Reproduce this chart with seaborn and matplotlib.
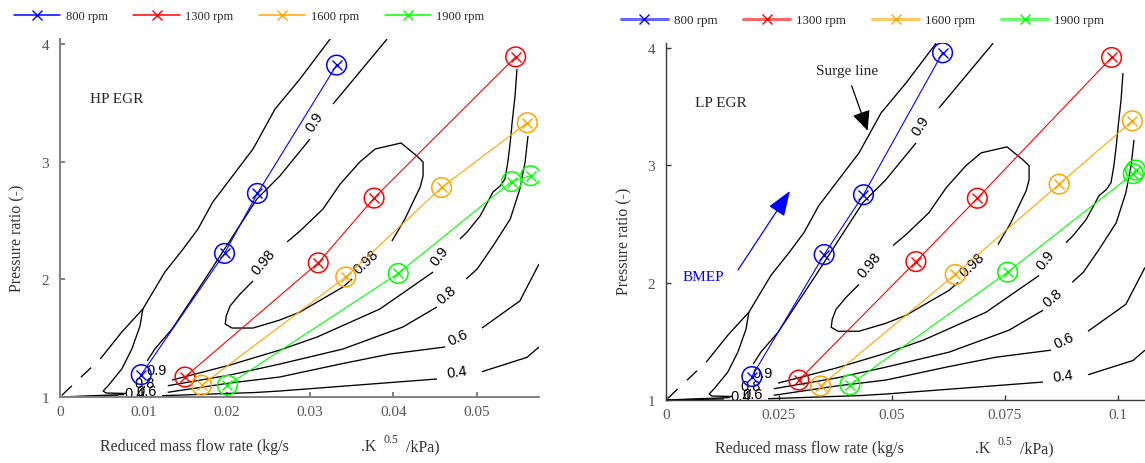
import matplotlib
matplotlib.use("Agg")
import matplotlib.pyplot as plt
from matplotlib.lines import Line2D
from matplotlib.colors import to_rgba
import pandas as pd
import seaborn as sns

# ---------------------------------------------------------------- data
SPEEDS = ["800 rpm", "1300 rpm", "1600 rpm", "1900 rpm"]
COLORS = ["#0000ff", "#ff0000", "#ffa500", "#00ff00"]

# HP EGR operating points (reduced mass flow, pressure ratio)
HP_800_FLOW = [0.00975, 0.01975, 0.0237, 0.0332]
HP_800_PR = [1.19, 2.22, 2.73, 3.82]
HP_1300_FLOW = [0.0150, 0.0310, 0.0377, 0.0547]
HP_1300_PR = [1.17, 2.14, 2.69, 3.89]
HP_1600_FLOW = [0.0170, 0.0343, 0.0458, 0.0561]
HP_1600_PR = [1.10, 2.02, 2.78, 3.33]
HP_1900_FLOW = [0.0201, 0.0406, 0.0542, 0.0565]
HP_1900_PR = [1.10, 2.05, 2.83, 2.88]

# LP EGR operating points
LP_800_FLOW = [0.0190, 0.0350, 0.0437, 0.0612]
LP_800_PR = [1.20, 2.24, 2.75, 3.96]
LP_1300_FLOW = [0.0294, 0.0553, 0.0689, 0.0986]
LP_1300_PR = [1.17, 2.18, 2.72, 3.92]
LP_1600_FLOW = [0.0342, 0.0640, 0.0870, 0.1032]
LP_1600_PR = [1.12, 2.07, 2.84, 3.38]
LP_1900_FLOW = [0.0407, 0.0756, 0.1034, 0.1039]
LP_1900_PR = [1.13, 2.09, 2.93, 2.96]

HP_XTICKS = [0, 0.01, 0.02, 0.03, 0.04, 0.05]
HP_XTICKLABELS = ["0", "0.01", "0.02", "0.03", "0.04", "0.05"]
LP_XTICKS = [0, 0.025, 0.05, 0.075, 0.1]
LP_XTICKLABELS = ["0", "0.025", "0.05", "0.075", "0.1"]
YTICKS = [1, 2, 3, 4]
YTICKLABELS = ["1", "2", "3", "4"]

# Compressor map, normalised efficiency iso-lines.
# x: fraction of the flow axis span, y: pressure ratio.
SURGE_LINE = [(0.564, 4.042), (0.501, 3.702), (0.449, 3.447), (0.403, 3.107),
              (0.319, 2.657), (0.288, 2.427), (0.257, 2.257), (0.219, 2.062),
              (0.173, 1.748), (0.129, 1.552), (0.084, 1.323)]
SURGE_TAIL = [(0.084, 1.323), (0.0, 1.0)]

ETA_98_UPPER = [(0.693, 2.325), (0.720, 2.512), (0.737, 2.657), (0.752, 2.784),
                (0.758, 2.878), (0.758, 2.997), (0.745, 3.048), (0.712, 3.158),
                (0.658, 3.107), (0.626, 2.997), (0.585, 2.810), (0.549, 2.597),
                (0.501, 2.410), (0.474, 2.317)]
ETA_98_LOWER = [(0.403, 1.986), (0.376, 1.875), (0.355, 1.773), (0.347, 1.688),
                (0.345, 1.620), (0.359, 1.586), (0.403, 1.586), (0.459, 1.654),
                (0.501, 1.722), (0.591, 1.935), (0.610, 2.003)]

ETA_90_TOP = [(0.683, 4.042), (0.570, 3.489)]
ETA_90_SURGE = [(0.522, 3.192), (0.459, 2.878), (0.411, 2.682), (0.307, 2.028),
                (0.234, 1.578), (0.198, 1.408), (0.182, 1.306)]
ETA_90_LOWER = [(0.234, 1.144), (0.355, 1.272), (0.459, 1.399), (0.537, 1.510),
                (0.668, 1.748), (0.779, 2.062)]
ETA_90_CHOKE = [(0.835, 2.342), (0.850, 2.402), (0.877, 2.538), (0.904, 2.742),
                (0.919, 2.793), (0.929, 2.852), (0.935, 2.997), (0.940, 3.167),
                (0.944, 3.336), (0.950, 3.557), (0.954, 3.787)]

ETA_80_SURGE = [(0.173, 1.748), (0.167, 1.603), (0.150, 1.408), (0.129, 1.238),
                (0.100, 1.093), (0.090, 1.051), (0.096, 1.034), (0.138, 1.030)]
ETA_80_MID = [(0.225, 1.096), (0.355, 1.187), (0.459, 1.280), (0.591, 1.408),
              (0.716, 1.595), (0.787, 1.765)]
ETA_80_CHOKE = [(0.848, 2.003), (0.871, 2.088), (0.904, 2.283), (0.940, 2.512),
                (0.960, 2.767), (0.971, 2.997), (0.977, 3.218)]

ETA_60_SURGE = [(0.0, 1.0), (0.134, 1.021)]
ETA_60_MID = [(0.225, 1.040), (0.355, 1.119), (0.459, 1.170), (0.585, 1.280),
              (0.689, 1.365), (0.804, 1.425)]
ETA_60_CHOKE = [(0.881, 1.586), (0.960, 1.816), (1.0, 2.130)]

ETA_40_SURGE = [(0.0, 1.0), (0.121, 1.009)]
ETA_40_MID = [(0.213, 1.011), (0.407, 1.038), (0.459, 1.051), (0.787, 1.153)]
ETA_40_CHOKE = [(0.881, 1.215), (0.975, 1.337), (1.0, 1.425)]

CONTOUR_LABELS = [
    ("0.9", 0.532, 3.345, 57), ("0.98", 0.424, 2.155, 50),
    ("0.98", 0.639, 2.155, 43), ("0.9", 0.202, 1.229, 0),
    ("0.9", 0.793, 2.198, 52), ("0.8", 0.808, 1.875, 40),
    ("0.6", 0.831, 1.510, 25), ("0.4", 0.829, 1.212, 8),
    ("0.8", 0.176, 1.118, 0), ("0.6", 0.180, 1.054, 0),
    ("0.4", 0.156, 1.030, 0),
]

MAP_PIECES = [SURGE_LINE, ETA_98_UPPER, ETA_98_LOWER,
              ETA_90_TOP, ETA_90_SURGE, ETA_90_LOWER, ETA_90_CHOKE,
              ETA_80_SURGE, ETA_80_MID, ETA_80_CHOKE,
              ETA_60_SURGE, ETA_60_MID, ETA_60_CHOKE,
              ETA_40_SURGE, ETA_40_MID, ETA_40_CHOKE]


def points_frame(flows, ratios):
    rows = []
    for speed, fl, pr in zip(SPEEDS, flows, ratios):
        for i, (f, p) in enumerate(zip(fl, pr)):
            rows.append({"speed": speed, "step": i, "flow": f, "pr": p})
    return pd.DataFrame(rows)


hp_df = points_frame([HP_800_FLOW, HP_1300_FLOW, HP_1600_FLOW, HP_1900_FLOW],
                     [HP_800_PR, HP_1300_PR, HP_1600_PR, HP_1900_PR])
lp_df = points_frame([LP_800_FLOW, LP_1300_FLOW, LP_1600_FLOW, LP_1900_FLOW],
                     [LP_800_PR, LP_1300_PR, LP_1600_PR, LP_1900_PR])

# ---------------------------------------------------------------- style
sns.set_style("ticks")
plt.rcParams["font.family"] = ["Liberation Serif", "DejaVu Serif"]
plt.rcParams["axes.grid"] = False

fig = plt.figure(figsize=(11.45, 4.64), dpi=100)
fig.patch.set_facecolor("white")
ax_hp = fig.add_axes([60 / 1145, 66 / 464, 479 / 1145, 3.04 * 117.7 / 464])
ax_lp = fig.add_axes([666 / 1145, 63 / 464, 479 / 1145, 3.04 * 117.3 / 464])


def style_axes(ax, xmax, xticks, xticklabels, spine_color, spine_lw):
    ax.set_xlim(0, xmax)
    ax.set_ylim(1, 4.04)
    ax.set_xticks(xticks)
    ax.set_xticklabels(xticklabels)
    ax.set_yticks(YTICKS)
    ax.set_yticklabels(YTICKLABELS)
    ax.set_xlabel("")
    ax.set_ylabel("")
    sns.despine(ax=ax)
    for side in ("left", "bottom"):
        ax.spines[side].set_color(spine_color)
        ax.spines[side].set_linewidth(spine_lw)
    ax.tick_params(direction="in", length=3.6, width=spine_lw,
                   color=spine_color, labelcolor="#555555", labelsize=11)
    ax.tick_params(axis="y", pad=8)
    ax.tick_params(axis="x", pad=6)
    ax.set_facecolor("white")


def draw_map(ax):
    tr = ax.get_yaxis_transform()
    for piece in MAP_PIECES:
        u, p = zip(*piece)
        ax.plot(u, p, color="black", lw=0.95, transform=tr, zorder=1,
                solid_joinstyle="round", solid_capstyle="butt")
    u, p = zip(*SURGE_TAIL)
    ax.plot(u, p, color="black", lw=0.95, transform=tr, zorder=1,
            ls=(10.6, (10.6, 9.5)))
    for text, u, p, rot in CONTOUR_LABELS:
        ax.text(u, p, text, transform=tr, rotation=rot, rotation_mode="anchor",
                ha="center", va="center", fontsize=10.5,
                family=["Liberation Sans", "DejaVu Sans"], color="black",
                zorder=2)


def draw_points(ax, df):
    for speed, color in zip(SPEEDS, COLORS):
        sub = df[df["speed"] == speed]
        sns.lineplot(data=sub, x="flow", y="pr", sort=False, estimator=None,
                     color=color, lw=0.8, marker="x", markersize=7,
                     markeredgewidth=1.0, markeredgecolor=color,
                     legend=False, ax=ax, zorder=3)
        sns.scatterplot(data=sub, x="flow", y="pr", marker="o", s=200,
                        color=color, facecolor="none", edgecolor=color,
                        linewidth=1.1, legend=False, ax=ax, zorder=4)


def add_legend(ax, anchor, fontsize, line_lw, line_alpha, hlen, colsp):
    handles = [Line2D([], [], color=to_rgba(c, line_alpha), lw=line_lw,
                      marker="x", markersize=7, markeredgewidth=1.0,
                      markeredgecolor=c) for c in COLORS]
    ax.legend(handles, SPEEDS, loc="center left", bbox_to_anchor=anchor,
              bbox_transform=fig.transFigure, ncol=4, frameon=False,
              fontsize=fontsize, handlelength=hlen, handletextpad=0.45,
              columnspacing=colsp, borderpad=0, borderaxespad=0)


# ---------------------------------------------------------------- HP EGR
draw_map(ax_hp)
draw_points(ax_hp, hp_df)
style_axes(ax_hp, 0.0575, HP_XTICKS, HP_XTICKLABELS, "#808080", 1.4)
ax_hp.text(0.00678, 3.532, "HP EGR", ha="center", va="center", fontsize=11)
add_legend(ax_hp, (14 / 1145, 1 - 17 / 464), 9, 1.1, 1.0, 3.7, 2.05)

# ---------------------------------------------------------------- LP EGR
draw_map(ax_lp)
draw_points(ax_lp, lp_df)
style_axes(ax_lp, 0.106, LP_XTICKS, LP_XTICKLABELS, "#3a3a3a", 1.0)
ax_lp.text(0.01217, 3.532, "LP EGR", ha="center", va="center", fontsize=11)
ax_lp.text(0.04004, 3.805, "Surge line", ha="center", va="center", fontsize=11)
ax_lp.annotate("", xy=(0.04462, 3.296), xytext=(0.04108, 3.679),
               arrowprops=dict(arrowstyle="-|>,head_length=0.55,head_width=0.25",
                               mutation_scale=22, lw=0.9, color="black",
                               shrinkA=0, shrinkB=0))
ax_lp.text(0.00819, 2.057, "BMEP", ha="center", va="center", fontsize=11,
           color="#0000ff")
ax_lp.annotate("", xy=(0.02743, 2.782), xytext=(0.01593, 2.108),
               arrowprops=dict(arrowstyle="-|>,head_length=0.6,head_width=0.22",
                               mutation_scale=26, lw=0.9, color="#0000ff",
                               shrinkA=0, shrinkB=0))
add_legend(ax_lp, (620.7 / 1145, 1 - 21 / 464), 9.4, 2.2, 0.6, 3.6, 2.0)

# ---------------------------------------------------------------- axis titles
def flow_label(x0, x1, baseline):
    y = 1 - baseline / 464
    fig.text(x0 / 1145, y, "Reduced mass flow rate (kg/s", ha="left",
             va="baseline", fontsize=11.5, color="#333333")
    fig.text(x1 / 1145, y, ".K", ha="left", va="baseline", fontsize=11.5,
             color="#333333")
    fig.text((x1 + 22) / 1145, 1 - (baseline - 8) / 464, "0.5", ha="left",
             va="baseline", fontsize=8.5, color="#333333")
    fig.text((x1 + 45) / 1145, y, "/kPa)", ha="left", va="baseline",
             fontsize=11.5, color="#333333")


flow_label(100, 361, 451)
flow_label(715, 975, 453)
fig.text(17 / 1145, 1 - 238 / 464, "Pressure ratio (-)", rotation=90,
         ha="center", va="center", fontsize=11.5, color="#333333")
fig.text(624.5 / 1145, 1 - 241 / 464, "Pressure ratio (-)", rotation=90,
         ha="center", va="center", fontsize=11.5, color="#333333")

fig.savefig("out.png", dpi=100, facecolor="white")
